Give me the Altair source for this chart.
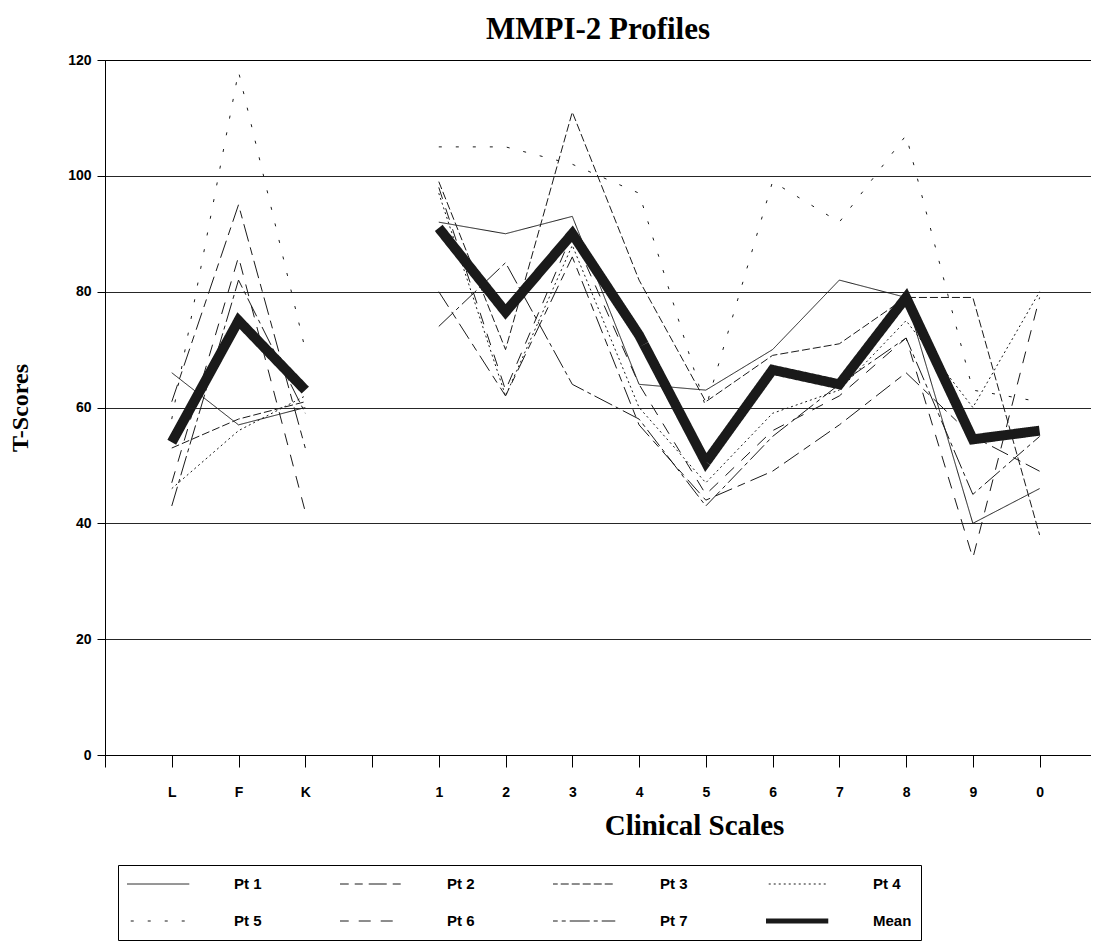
import altair as alt
import pandas as pd

scales = ["L", "F", "K", "1", "2", "3", "4", "5", "6", "7", "8", "9", "0"]
blocks = ["val", "val", "val", "clin", "clin", "clin", "clin", "clin", "clin", "clin", "clin", "clin", "clin"]
# category slots along the axis: blank, L, F, K, blank, 1..9, 0
slot_labels = ["", "L", "F", "K", "", "1", "2", "3", "4", "5", "6", "7", "8", "9", "0"]

series_names = ["Pt 1", "Pt 2", "Pt 3", "Pt 4", "Pt 5", "Pt 6", "Pt 7", "Mean"]

pt1 = [66, 57, 60, 92, 90, 93, 64, 63, 70, 82, 79, 40, 46]
pt2 = [61, 95, 53, 80, 62, 86, 57, 44, 49, 57, 66, 55, 49]
pt3 = [53, 58, 61, 99, 70, 111, 82, 61, 69, 71, 79, 79, 38]
pt4 = [46, 56, 62, 97, 62, 88, 60, 47, 59, 63, 75, 60, 80]
pt5 = [58, 118, 70, 105, 105, 102, 97, 60, 99, 92, 107, 63, 61]
pt6 = [47, 86, 42, 98, 63, 90, 64, 45, 56, 62, 72, 34, 79]
pt7 = [43, 82, 59, 74, 85, 64, 58, 43, 55, 64, 72, 45, 55]
mean = [54, 75, 63, 91, 76.5, 90, 72.5, 50.5, 66.5, 64, 79, 54.5, 56]

all_series = [pt1, pt2, pt3, pt4, pt5, pt6, pt7, mean]

rows = []
for name, vals in zip(series_names, all_series):
    for sc, bl, v in zip(scales, blocks, vals):
        rows.append({"slot": slot_labels.index(sc), "scale": sc, "block": bl,
                     "series": name, "value": v})
df = pd.DataFrame(rows)

dash_range = [[1, 0], [18, 6, 8, 6], [8, 3], [2, 3], [3, 14], [12, 10], [20, 4, 4, 4], [1, 0]]

label_font = "Liberation Sans"
serif = "Liberation Serif"

label_js = "[" + ",".join("'" + s + "'" for s in slot_labels) + "]"

chart = alt.Chart(df).mark_line(color="#1a1a1a", strokeJoin="miter").encode(
    x=alt.X("slot:Q",
            scale=alt.Scale(domain=[0, 14.77], nice=False, zero=False),
            axis=alt.Axis(
                title="Clinical Scales",
                values=list(range(len(slot_labels))),
                labelExpr=label_js + "[datum.value] || ''",
                labelAngle=0, tickSize=12, tickColor="black", domainColor="black",
                labelFont=label_font, labelFontWeight="bold", labelFontSize=14, labelColor="black",
                labelPadding=18, labelFlush=False, labelOverlap=False,
                titleFont=serif, titleFontWeight="bold", titleFontSize=29, titleColor="black",
                titleX=589, titleY=70, titleBaseline="middle", titleAlign="center",
                grid=False)),
    y=alt.Y("value:Q",
            scale=alt.Scale(domain=[0, 120]),
            axis=alt.Axis(
                title="T-Scores", values=[0, 20, 40, 60, 80, 100, 120],
                tickSize=8, tickColor="black", domainColor="black",
                gridColor="black", gridOpacity=0.85,
                labelFont=label_font, labelFontWeight="bold", labelFontSize=14, labelColor="black",
                labelPadding=6,
                titleFont=serif, titleFontWeight="bold", titleFontSize=24, titleColor="black",
                titlePadding=35)),
    detail="block:N",
    strokeDash=alt.StrokeDash("series:N",
                              scale=alt.Scale(domain=series_names, range=dash_range),
                              legend=alt.Legend(
                                  title=None,
                                  symbolStrokeWidth=alt.ExprRef("datum.value == 'Mean' ? 5 : 1"))),
    strokeWidth=alt.condition("datum.series == 'Mean'", alt.value(10), alt.value(1)),
).properties(
    width=986, height=695, padding={"left": 0, "top": 6, "right": 0, "bottom": 0},
    title=alt.Title("MMPI-2 Profiles", font=serif, fontWeight="bold", fontSize=31, color="black",
                    anchor="middle", offset=7)
).configure_view(
    stroke="black", strokeWidth=1
).configure_legend(
    orient="none", legendX=13, legendY=805, columns=4, direction="horizontal",
    symbolType="stroke", symbolSize=12000, symbolStrokeColor="#1a1a1a",
    labelFont=label_font, labelFontWeight="bold", labelFontSize=15, labelColor="black",
    labelOffset=92, columnPadding=78, rowPadding=17, clipHeight=20,
    strokeColor="black", padding=9, symbolOffset=0
)

chart.save("out.html", embed_options={"renderer": "svg", "actions": False})
